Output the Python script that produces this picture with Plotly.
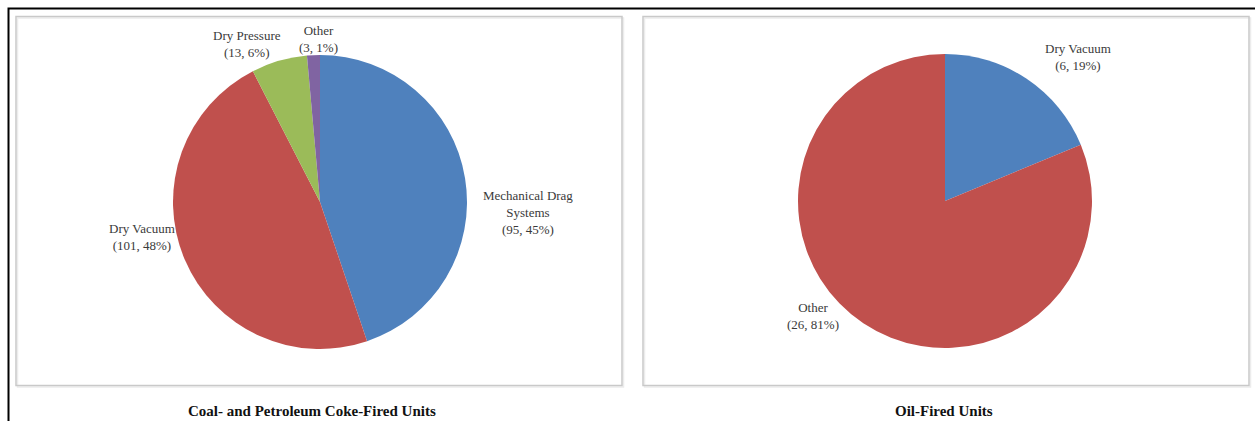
import plotly.graph_objects as go

W, H = 1255, 421

# Data
coal_labels = ["Mechanical Drag Systems", "Dry Vacuum", "Dry Pressure", "Other"]
coal_label_text = ["Mechanical Drag<br>Systems", "Dry Vacuum", "Dry Pressure", "Other"]
coal_values = [95, 101, 13, 3]
coal_colors = ["#4F81BD", "#C0504D", "#9BBB59", "#8064A2"]

oil_labels = ["Dry Vacuum", "Other"]
oil_label_text = ["Dry Vacuum", "Other"]
oil_values = [6, 26]
oil_colors = ["#4F81BD", "#C0504D"]

titles = ["Coal- and Petroleum Coke-Fired Units", "Oil-Fired Units"]

# label anchor positions in pixels (layout)
coal_label_pos = [(528, 212), (142, 237), (247, 44), (318, 39)]
oil_label_pos = [(1078, 57), (813, 316)]

def px(x):
    return x / W

def py(y):
    return 1 - y / H

def pie_domain(cx, cy, r):
    return dict(x=[px(cx - r), px(cx + r)], y=[py(cy + r), py(cy - r)])

fig = go.Figure()
fig.add_trace(go.Pie(labels=coal_labels, values=coal_values, sort=False,
                     direction="clockwise", rotation=0,
                     marker=dict(colors=coal_colors, line=dict(width=0)),
                     textinfo="none", hoverinfo="label+value+percent",
                     domain=pie_domain(320, 202, 147), showlegend=False))
fig.add_trace(go.Pie(labels=oil_labels, values=oil_values, sort=False,
                     direction="clockwise", rotation=0,
                     marker=dict(colors=oil_colors, line=dict(width=0)),
                     textinfo="none", hoverinfo="label+value+percent",
                     domain=pie_domain(945, 201, 147), showlegend=False))

annotations = []
lab_font = dict(family="Liberation Serif, Times New Roman, serif", size=13, color="#3a3a3a")

def add_labels(texts, values, positions):
    total = sum(values)
    for t, v, (x, y) in zip(texts, values, positions):
        pct = round(100 * v / total)
        annotations.append(dict(x=px(x), y=py(y), xref="paper", yref="paper",
                                text=f"{t}<br>({v}, {pct}%)", showarrow=False,
                                font=lab_font, align="center",
                                xanchor="center", yanchor="middle"))

add_labels(coal_label_text, coal_values, coal_label_pos)
add_labels(oil_label_text, oil_values, oil_label_pos)

title_font = dict(family="Liberation Serif, Times New Roman, serif", size=15, color="#111111")
for t, x in zip(titles, [312, 944]):
    annotations.append(dict(x=px(x), y=py(411), xref="paper", yref="paper", text=f"<b>{t}</b>",
                            showarrow=False, font=title_font, xanchor="center", yanchor="middle"))

shapes = []
# outer black frame
shapes.append(dict(type="rect", xref="paper", yref="paper", x0=px(8.5), x1=px(1270), y0=py(8.5), y1=py(440),
                   line=dict(color="#000000", width=2)))
# panels (shadow then border)
for x0, x1 in [(16, 622), (643, 1249)]:
    shapes.append(dict(type="rect", xref="paper", yref="paper", x0=px(x0 + 1.5), x1=px(x1 + 1.5),
                       y0=py(385.5 + 1.5), y1=py(16.5 + 1.5), line=dict(color="#ececec", width=1.5)))
    shapes.append(dict(type="rect", xref="paper", yref="paper", x0=px(x0), x1=px(x1),
                       y0=py(385.5), y1=py(16.5), line=dict(color="#c9c9c9", width=1.5)))

fig.update_layout(width=W, height=H, margin=dict(l=0, r=0, t=0, b=0),
                  paper_bgcolor="white", plot_bgcolor="white",
                  annotations=annotations, shapes=shapes)

fig.write_html("out.html")
